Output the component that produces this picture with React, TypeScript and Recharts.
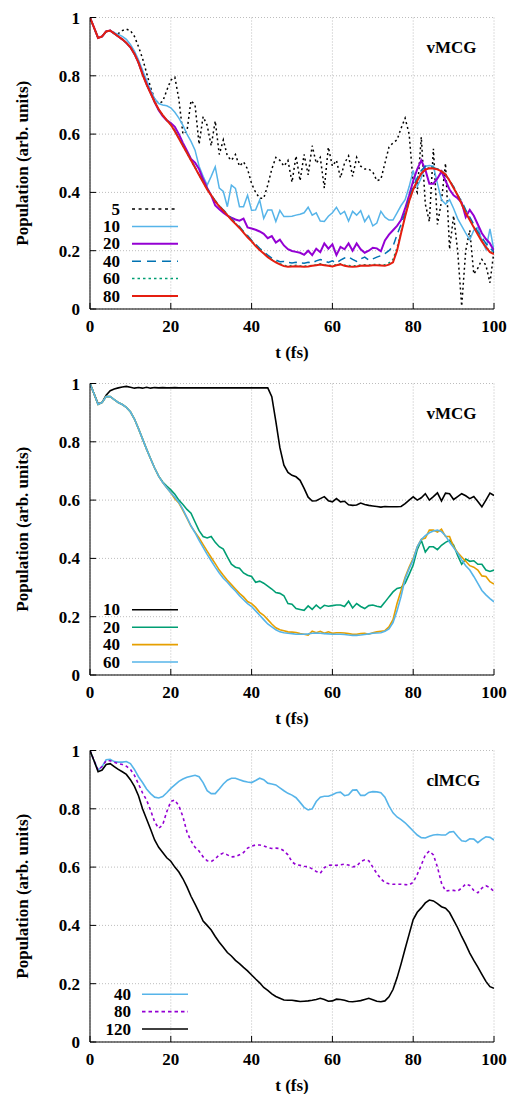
import React from 'react';
import { LineChart, Line, XAxis, YAxis, CartesianGrid, Legend } from 'recharts';

const T = [
  0, 1, 2, 3, 4, 5, 6, 7, 8, 9, 10, 11, 12, 13, 14, 15, 16, 17, 18, 19,
  20, 21, 22, 23, 24, 25, 26, 27, 28, 29, 30, 31, 32, 33, 34, 35, 36, 37, 38, 39,
  40, 41, 42, 43, 44, 45, 46, 47, 48, 49, 50, 51, 52, 53, 54, 55, 56, 57, 58, 59,
  60, 61, 62, 63, 64, 65, 66, 67, 68, 69, 70, 71, 72, 73, 74, 75, 76, 77, 78, 79,
  80, 81, 82, 83, 84, 85, 86, 87, 88, 89, 90, 91, 92, 93, 94, 95, 96, 97, 98, 99, 100,
];

const X_TICKS = [0, 20, 40, 60, 80, 100];
const Y_TICKS = [0, 0.2, 0.4, 0.6, 0.8, 1];

// ---------- Panel 1 (vMCG) ----------
const P1_N5 = [
  1.0, 0.965, 0.93, 0.935, 0.952, 0.955, 0.948, 0.945, 0.955, 0.96,
  0.955, 0.935, 0.9, 0.86, 0.81, 0.76, 0.72, 0.705, 0.712, 0.75,
  0.785, 0.795, 0.72, 0.6, 0.61, 0.715, 0.7, 0.565, 0.66, 0.63,
  0.56, 0.645, 0.53, 0.58, 0.525, 0.51, 0.53, 0.49, 0.505, 0.48,
  0.43, 0.4, 0.38, 0.38, 0.425, 0.48, 0.52, 0.51, 0.49, 0.51,
  0.435, 0.525, 0.44, 0.53, 0.46, 0.56, 0.5, 0.52, 0.415, 0.555,
  0.49, 0.51, 0.45, 0.5, 0.525, 0.455, 0.52, 0.49, 0.48, 0.48,
  0.47, 0.44, 0.445, 0.5, 0.555, 0.57, 0.58, 0.62, 0.655, 0.6,
  0.43, 0.4, 0.59, 0.36, 0.3, 0.55, 0.29, 0.37, 0.5, 0.205,
  0.32, 0.2, 0.01, 0.2, 0.27, 0.12, 0.14, 0.17, 0.15, 0.09,
  0.2,
];
const P1_N10 = [
  1.0, 0.965, 0.93, 0.935, 0.952, 0.955, 0.948, 0.942, 0.935, 0.925,
  0.908, 0.885, 0.855, 0.82, 0.785, 0.75, 0.722, 0.705, 0.7, 0.697,
  0.69, 0.675, 0.655, 0.63, 0.6, 0.575, 0.545, 0.49, 0.455, 0.425,
  0.455, 0.488, 0.415, 0.403, 0.351, 0.425, 0.414, 0.351, 0.351, 0.39,
  0.338, 0.34, 0.374, 0.311, 0.34, 0.34, 0.3, 0.338, 0.317, 0.317,
  0.318, 0.322, 0.325, 0.33, 0.349, 0.322, 0.33, 0.302, 0.3, 0.318,
  0.33, 0.349, 0.325, 0.335, 0.302, 0.335, 0.322, 0.337, 0.3, 0.32,
  0.285, 0.295, 0.335, 0.315, 0.305, 0.305, 0.33, 0.355, 0.375, 0.42,
  0.475, 0.42, 0.45, 0.49, 0.492, 0.49, 0.43, 0.375, 0.36, 0.375,
  0.345, 0.31, 0.285, 0.26, 0.238, 0.27, 0.28, 0.235, 0.205, 0.275,
  0.2,
];
const P1_N20 = [
  1.0, 0.965, 0.93, 0.935, 0.952, 0.955, 0.945, 0.935, 0.925, 0.913,
  0.898, 0.875, 0.845, 0.807, 0.772, 0.742, 0.71, 0.682, 0.662, 0.647,
  0.638, 0.625, 0.6, 0.57, 0.543, 0.515, 0.502, 0.48, 0.445, 0.415,
  0.39, 0.355, 0.342, 0.33, 0.32, 0.313, 0.307, 0.303, 0.31, 0.28,
  0.276, 0.272, 0.266, 0.258, 0.243, 0.25, 0.228, 0.238, 0.218, 0.205,
  0.199, 0.196, 0.193, 0.186, 0.2, 0.185, 0.207, 0.195, 0.225, 0.207,
  0.222, 0.185, 0.213, 0.205, 0.225, 0.2, 0.225, 0.205, 0.193, 0.2,
  0.21, 0.208, 0.198, 0.235, 0.255, 0.27, 0.285, 0.305, 0.345, 0.39,
  0.44, 0.48, 0.51, 0.478, 0.43, 0.43, 0.448, 0.472, 0.44, 0.41,
  0.39, 0.38, 0.365, 0.315, 0.34, 0.32, 0.29, 0.26, 0.24, 0.225,
  0.2,
];
const P1_N40 = [
  1.0, 0.965, 0.93, 0.935, 0.952, 0.955, 0.945, 0.935, 0.925, 0.913,
  0.898, 0.875, 0.845, 0.806, 0.771, 0.741, 0.711, 0.684, 0.664, 0.648,
  0.633, 0.612, 0.588, 0.562, 0.537, 0.512, 0.487, 0.462, 0.437, 0.413,
  0.392, 0.372, 0.355, 0.34, 0.326, 0.31, 0.296, 0.283, 0.266, 0.252,
  0.236, 0.222, 0.208, 0.196, 0.185, 0.175, 0.168, 0.162, 0.163, 0.16,
  0.158, 0.16, 0.158, 0.157, 0.16, 0.158, 0.165, 0.17, 0.165, 0.16,
  0.165, 0.158, 0.168, 0.175, 0.178, 0.17, 0.163, 0.172, 0.178, 0.168,
  0.172, 0.178, 0.183, 0.19, 0.2, 0.215, 0.255, 0.29, 0.33, 0.38,
  0.42, 0.45, 0.475, 0.49, 0.49, 0.485, 0.48, 0.475, 0.46, 0.44,
  0.42, 0.39, 0.37, 0.34, 0.315, 0.29, 0.265, 0.245, 0.225, 0.21,
  0.195,
];
const P1_N60 = [
  1.0, 0.965, 0.93, 0.935, 0.952, 0.955, 0.945, 0.935, 0.925, 0.913,
  0.898, 0.875, 0.845, 0.806, 0.771, 0.741, 0.711, 0.685, 0.665, 0.648,
  0.632, 0.61, 0.586, 0.56, 0.535, 0.51, 0.485, 0.46, 0.436, 0.411,
  0.391, 0.37, 0.354, 0.339, 0.324, 0.308, 0.294, 0.28, 0.264, 0.249,
  0.234, 0.218, 0.205, 0.192, 0.18, 0.17, 0.162, 0.155, 0.15, 0.148,
  0.149, 0.15, 0.148, 0.147, 0.148, 0.15, 0.152, 0.155, 0.152, 0.15,
  0.149, 0.152, 0.155, 0.15, 0.149, 0.148, 0.149, 0.151, 0.152, 0.151,
  0.153, 0.153, 0.152, 0.152, 0.158, 0.17, 0.21, 0.265, 0.32, 0.37,
  0.41, 0.44, 0.465, 0.48, 0.485, 0.485, 0.48, 0.474, 0.463, 0.442,
  0.418, 0.392, 0.362, 0.333, 0.307, 0.282, 0.258, 0.234, 0.214, 0.198,
  0.19,
];
const P1_N80 = [
  1.0, 0.965, 0.93, 0.935, 0.952, 0.955, 0.945, 0.935, 0.925, 0.913,
  0.898, 0.875, 0.845, 0.805, 0.77, 0.74, 0.71, 0.685, 0.665, 0.648,
  0.632, 0.61, 0.585, 0.56, 0.535, 0.51, 0.485, 0.46, 0.435, 0.41,
  0.39, 0.369, 0.352, 0.337, 0.322, 0.306, 0.292, 0.278, 0.262, 0.246,
  0.232, 0.216, 0.202, 0.19, 0.178, 0.168, 0.16, 0.153, 0.147, 0.145,
  0.146, 0.147, 0.146, 0.145, 0.146, 0.148, 0.15, 0.153, 0.15, 0.148,
  0.146, 0.15, 0.153, 0.148, 0.146, 0.145, 0.146, 0.148, 0.149, 0.148,
  0.15, 0.15, 0.149, 0.148, 0.152, 0.16, 0.2, 0.26, 0.317, 0.37,
  0.41, 0.44, 0.465, 0.478, 0.483, 0.482, 0.479, 0.472, 0.462, 0.44,
  0.415, 0.39, 0.36, 0.33, 0.305, 0.28, 0.256, 0.232, 0.212, 0.195,
  0.188,
];

// ---------- Panel 2 (vMCG) ----------
const P2_N10 = [
  1.0, 0.965, 0.93, 0.935, 0.96, 0.975, 0.981, 0.985, 0.988, 0.99,
  0.987, 0.984, 0.986, 0.984, 0.987, 0.984, 0.986, 0.985, 0.986, 0.985,
  0.985, 0.986, 0.985, 0.985, 0.985, 0.985, 0.985, 0.985, 0.985, 0.985,
  0.985, 0.985, 0.985, 0.985, 0.985, 0.985, 0.985, 0.985, 0.985, 0.985,
  0.985, 0.985, 0.985, 0.985, 0.985, 0.955, 0.87, 0.78, 0.72, 0.695,
  0.685, 0.68, 0.668, 0.64, 0.61, 0.597, 0.598, 0.605, 0.612, 0.598,
  0.594, 0.605, 0.594, 0.596, 0.584, 0.582, 0.583, 0.59, 0.585, 0.582,
  0.58, 0.578, 0.576, 0.578, 0.577, 0.577, 0.577, 0.578, 0.588, 0.6,
  0.611, 0.6, 0.608, 0.622, 0.6, 0.612, 0.625, 0.597, 0.624, 0.622,
  0.602, 0.612, 0.622, 0.615, 0.605, 0.612, 0.595, 0.577, 0.6, 0.624,
  0.616,
];
const P2_N20 = [
  1.0, 0.965, 0.928, 0.935, 0.955, 0.955, 0.945, 0.935, 0.928, 0.918,
  0.903, 0.878, 0.845, 0.81, 0.775, 0.742, 0.71, 0.682, 0.662, 0.648,
  0.635, 0.62, 0.6, 0.585, 0.568, 0.555, 0.525, 0.495, 0.475, 0.47,
  0.475, 0.455, 0.44, 0.432, 0.405, 0.38, 0.37, 0.366, 0.35, 0.342,
  0.338, 0.318, 0.322, 0.315, 0.305, 0.295, 0.283, 0.28, 0.272, 0.245,
  0.243, 0.228, 0.225, 0.222, 0.237, 0.225, 0.24, 0.228, 0.239, 0.236,
  0.238, 0.24, 0.24, 0.235, 0.253, 0.23, 0.245, 0.235, 0.228, 0.238,
  0.24, 0.236, 0.233, 0.25, 0.268, 0.285, 0.297, 0.3, 0.315, 0.345,
  0.377, 0.43, 0.462, 0.422, 0.44, 0.44, 0.43, 0.445, 0.455, 0.462,
  0.445, 0.41, 0.38, 0.398, 0.39, 0.392, 0.38, 0.38, 0.36, 0.355,
  0.36,
];
const P2_N40 = [
  1.0, 0.965, 0.928, 0.935, 0.955, 0.955, 0.945, 0.935, 0.928, 0.918,
  0.903, 0.878, 0.845, 0.81, 0.775, 0.742, 0.71, 0.682, 0.66, 0.642,
  0.625, 0.605, 0.59, 0.565, 0.538, 0.51, 0.49, 0.47, 0.447, 0.425,
  0.403, 0.382, 0.36, 0.342, 0.325, 0.31, 0.295, 0.28, 0.268, 0.252,
  0.245, 0.232, 0.215, 0.205, 0.19, 0.175, 0.162, 0.155, 0.152, 0.148,
  0.147, 0.146, 0.142, 0.14, 0.137, 0.15, 0.145, 0.15, 0.143, 0.148,
  0.143, 0.145, 0.145, 0.144, 0.142, 0.14, 0.14, 0.142, 0.143, 0.14,
  0.145, 0.148, 0.15, 0.152, 0.165, 0.19, 0.245, 0.29, 0.335, 0.37,
  0.4, 0.44, 0.465, 0.47, 0.497, 0.497, 0.49, 0.5, 0.475, 0.475,
  0.44, 0.42, 0.405, 0.39, 0.375, 0.37, 0.36, 0.34, 0.338, 0.32,
  0.312,
];
const P2_N60 = [
  1.0, 0.965, 0.928, 0.935, 0.955, 0.955, 0.945, 0.935, 0.928, 0.918,
  0.903, 0.878, 0.845, 0.81, 0.775, 0.742, 0.71, 0.682, 0.66, 0.642,
  0.625, 0.61, 0.592, 0.568, 0.54, 0.512, 0.488, 0.462, 0.438, 0.414,
  0.392, 0.37, 0.35, 0.332, 0.318, 0.302, 0.288, 0.272, 0.258, 0.245,
  0.235, 0.22, 0.205, 0.19, 0.175, 0.165, 0.155, 0.148, 0.145, 0.143,
  0.142, 0.14, 0.14, 0.14, 0.141, 0.143, 0.144, 0.143, 0.142, 0.141,
  0.14, 0.14, 0.14, 0.139, 0.137, 0.136, 0.136, 0.137, 0.139, 0.141,
  0.143, 0.144, 0.145, 0.15, 0.158, 0.18, 0.22, 0.27, 0.33, 0.365,
  0.395, 0.44, 0.465, 0.478, 0.488, 0.494, 0.497, 0.492, 0.478, 0.455,
  0.437, 0.418, 0.395, 0.375, 0.36, 0.338, 0.314, 0.29, 0.275, 0.262,
  0.251,
];

// ---------- Panel 3 (clMCG) ----------
const P3_N40 = [
  1.0, 0.965, 0.933, 0.945, 0.968, 0.97, 0.962, 0.96, 0.96, 0.962,
  0.955, 0.935, 0.91, 0.89, 0.868, 0.852, 0.84, 0.837, 0.842, 0.855,
  0.87, 0.882, 0.894, 0.902, 0.908, 0.912, 0.915, 0.91, 0.89, 0.862,
  0.852, 0.852, 0.868, 0.885, 0.898, 0.905, 0.905, 0.9, 0.895, 0.892,
  0.89, 0.897, 0.905, 0.9, 0.888, 0.885, 0.882, 0.872, 0.862, 0.853,
  0.847, 0.838, 0.822, 0.805, 0.796, 0.8, 0.825, 0.84, 0.843, 0.843,
  0.848, 0.855, 0.857, 0.845, 0.848, 0.864, 0.865, 0.846, 0.846, 0.856,
  0.859, 0.858, 0.855, 0.84, 0.81, 0.786, 0.772, 0.763, 0.752, 0.738,
  0.724, 0.71, 0.701, 0.7, 0.706, 0.71, 0.712, 0.71, 0.71, 0.72,
  0.722, 0.705, 0.69, 0.688, 0.697, 0.696, 0.684, 0.695, 0.704, 0.702,
  0.693,
];
const P3_N80 = [
  1.0, 0.965, 0.933, 0.945, 0.965, 0.965, 0.96, 0.955, 0.952, 0.946,
  0.935, 0.915, 0.885, 0.855, 0.83, 0.795, 0.755, 0.733, 0.745, 0.79,
  0.825, 0.83, 0.81, 0.773, 0.72, 0.69, 0.668, 0.655, 0.635, 0.622,
  0.619, 0.628, 0.642, 0.648, 0.642, 0.635, 0.636, 0.642, 0.65, 0.665,
  0.672, 0.676, 0.676, 0.673, 0.667, 0.664, 0.665, 0.664, 0.656, 0.642,
  0.618, 0.608, 0.606, 0.603, 0.601, 0.594, 0.585, 0.579, 0.598, 0.606,
  0.607, 0.606, 0.608, 0.61, 0.607, 0.601, 0.603, 0.619, 0.625, 0.622,
  0.6, 0.578, 0.56, 0.547, 0.543, 0.541, 0.541, 0.541, 0.54, 0.539,
  0.548, 0.575, 0.607, 0.642, 0.655, 0.642, 0.6, 0.545, 0.518, 0.52,
  0.52, 0.518, 0.528, 0.542, 0.537, 0.52, 0.512, 0.528, 0.536, 0.53,
  0.516,
];
const P3_N120 = [
  1.0, 0.965, 0.927, 0.933, 0.952, 0.955, 0.945, 0.935, 0.927, 0.918,
  0.9, 0.877, 0.845, 0.8, 0.765, 0.73, 0.693, 0.668, 0.65, 0.632,
  0.62, 0.6, 0.583, 0.56, 0.532, 0.5, 0.473, 0.445, 0.415, 0.4,
  0.384, 0.362, 0.342, 0.325, 0.307, 0.295, 0.28, 0.269, 0.256, 0.244,
  0.23, 0.216, 0.203, 0.187, 0.177, 0.165, 0.156, 0.15, 0.144, 0.143,
  0.143, 0.141, 0.139, 0.14, 0.141, 0.143, 0.146, 0.15, 0.146, 0.14,
  0.141, 0.147, 0.146, 0.143, 0.139, 0.138, 0.14, 0.142, 0.146, 0.15,
  0.145, 0.14, 0.138, 0.141, 0.155, 0.18, 0.22, 0.268, 0.32, 0.37,
  0.42, 0.445, 0.46, 0.477, 0.487, 0.484, 0.475, 0.464, 0.459, 0.444,
  0.418, 0.392, 0.362, 0.335, 0.305, 0.28, 0.257, 0.232, 0.208, 0.19,
  0.184,
];

type Series = {
  key: string;
  name: string;
  values: number[];
  color: string;
  width: number;
  dash?: string;
  legendDash?: string;
};

const PANEL1: Series[] = [
  { key: 'n5', name: '5', values: P1_N5, color: '#000000', width: 1.5, dash: '2 3', legendDash: '3 3.6' },
  { key: 'n10', name: '10', values: P1_N10, color: '#56b4e9', width: 1.5 },
  { key: 'n20', name: '20', values: P1_N20, color: '#9400d3', width: 2 },
  { key: 'n40', name: '40', values: P1_N40, color: '#0072b2', width: 1.5, dash: '8 5', legendDash: '9 6' },
  { key: 'n60', name: '60', values: P1_N60, color: '#009e73', width: 1.5, dash: '2 3', legendDash: '2.5 3' },
  { key: 'n80', name: '80', values: P1_N80, color: '#e51e10', width: 2 },
];
const PANEL2: Series[] = [
  { key: 'n10', name: '10', values: P2_N10, color: '#000000', width: 1.6 },
  { key: 'n20', name: '20', values: P2_N20, color: '#009e73', width: 1.6 },
  { key: 'n40', name: '40', values: P2_N40, color: '#e69f00', width: 1.6 },
  { key: 'n60', name: '60', values: P2_N60, color: '#56b4e9', width: 1.6 },
];
const PANEL3: Series[] = [
  { key: 'n40', name: '40', values: P3_N40, color: '#56b4e9', width: 1.6 },
  { key: 'n80', name: '80', values: P3_N80, color: '#9400d3', width: 1.6, dash: '3 3', legendDash: '3.5 3' },
  { key: 'n120', name: '120', values: P3_N120, color: '#000000', width: 1.6 },
];

const FONT = 'Liberation Serif, Tinos, Times New Roman, Times, serif';
const W = 513;
const H = 366;
const TEXT_STYLE = { fontFamily: FONT, fontWeight: 700, fontSize: 17, fill: '#000', style: { fontFamily: FONT } };
const SVG_TEXT_CSS: React.CSSProperties = { fontFamily: FONT, fontWeight: 700, fontSize: 17 };

function Panel({
  series,
  title,
  legendTextRight,
  legendLineX1,
  legendLineX2,
}: {
  series: Series[];
  title: string;
  legendTextRight: number;
  legendLineX1: number;
  legendLineX2: number;
}) {
  const data = T.map((t, i) => {
    const row: Record<string, number> = { t };
    series.forEach((s) => {
      row[s.key] = s.values[i];
    });
    return row;
  });

  const n = series.length;
  const legendContent = () => (
    <svg width={W} height={H} style={{ display: 'block', overflow: 'visible' }}>
      <text x={426.5} y={47} textAnchor="start" dominantBaseline="central" fill="#000" style={SVG_TEXT_CSS}>
        {title}
      </text>
      {series.map((s, i) => {
        const y = 296 - (n - 1 - i) * 17.4;
        return (
          <g key={s.key}>
            <text x={legendTextRight} y={y} textAnchor="end" dominantBaseline="central" fill="#000" style={SVG_TEXT_CSS}>
              {s.name}
            </text>
            <line
              x1={legendLineX1}
              x2={legendLineX2}
              y1={y}
              y2={y}
              stroke={s.color}
              strokeWidth={s.width}
              strokeDasharray={s.legendDash ?? s.dash}
            />
          </g>
        );
      })}
    </svg>
  );

  const yLabel = (p: any) => {
    const vb = p && p.viewBox && p.viewBox.height ? p.viewBox : { x: 8, y: 17.5, width: 82, height: 291.5 };
    const cx = vb.x + 14;
    const cy = vb.y + vb.height / 2;
    return (
      <text
        x={cx}
        y={cy}
        transform={`rotate(-90, ${cx}, ${cy})`}
        textAnchor="middle"
        dominantBaseline="central"
        fill="#000"
        style={SVG_TEXT_CSS}
      >
        Population (arb. units)
      </text>
    );
  };

  const xLabel = (p: any) => {
    const vb = p && p.viewBox && p.viewBox.width ? p.viewBox : { x: 90, y: 309, width: 404, height: 57 };
    return (
      <text
        x={vb.x + vb.width / 2}
        y={vb.y + 43}
        textAnchor="middle"
        dominantBaseline="central"
        fill="#000"
        style={SVG_TEXT_CSS}
      >
        t (fs)
      </text>
    );
  };

  return (
    <LineChart
      width={W}
      height={H}
      data={data}
      margin={{ top: 17.5, right: 19, bottom: 0, left: 8 }}
      style={{ fontFamily: FONT }}
    >
      <CartesianGrid stroke="#bdbdbd" strokeDasharray="1 2" strokeWidth={1} />
      <XAxis
        dataKey="t"
        type="number"
        domain={[0, 100]}
        ticks={X_TICKS}
        interval={0}
        allowDataOverflow
        height={57}
        tickSize={-6}
        tickMargin={17}
        axisLine={{ stroke: '#000', strokeWidth: 1 }}
        tickLine={{ stroke: '#000' }}
        tick={TEXT_STYLE}
        label={xLabel}
      />
      <XAxis
        xAxisId="top"
        orientation="top"
        dataKey="t"
        type="number"
        domain={[0, 100]}
        ticks={X_TICKS}
        interval={0}
        allowDataOverflow
        height={0}
        tickSize={-6}
        tick={false}
        axisLine={{ stroke: '#000', strokeWidth: 1 }}
        tickLine={{ stroke: '#000' }}
      />
      <YAxis
        type="number"
        domain={[0, 1]}
        ticks={Y_TICKS}
        interval={0}
        allowDataOverflow
        width={82}
        tickSize={-6}
        tickMargin={16}
        axisLine={{ stroke: '#000', strokeWidth: 1 }}
        tickLine={{ stroke: '#000' }}
        tick={TEXT_STYLE}
        tickFormatter={(v: number) => String(v)}
        label={yLabel}
      />
      <YAxis
        yAxisId="right"
        orientation="right"
        type="number"
        domain={[0, 1]}
        ticks={Y_TICKS}
        interval={0}
        allowDataOverflow
        width={0}
        tickSize={-6}
        tick={false}
        axisLine={{ stroke: '#000', strokeWidth: 1 }}
        tickLine={{ stroke: '#000' }}
      />
      {series.map((s) => (
        <Line
          key={s.key}
          dataKey={s.key}
          name={s.name}
          type="linear"
          stroke={s.color}
          strokeWidth={s.width}
          strokeDasharray={s.dash}
          dot={false}
          activeDot={false}
          isAnimationActive={false}
        />
      ))}
      <Legend
        layout="vertical"
        align="center"
        verticalAlign="middle"
        content={legendContent}
        wrapperStyle={{ position: 'absolute', left: 0, top: 0, width: W, height: H, margin: 0, pointerEvents: 'none' }}
      />
    </LineChart>
  );
}

export default function App() {
  return (
    <div style={{ position: 'absolute', left: 0, top: 0, width: 513, height: 1094, background: '#fff' }}>
      <div style={{ position: 'absolute', left: 0, top: 0 }}>
        <Panel series={PANEL1} title="vMCG" legendTextRight={120} legendLineX1={132} legendLineX2={178} />
      </div>
      <div style={{ position: 'absolute', left: 0, top: 365.5 }}>
        <Panel series={PANEL2} title="vMCG" legendTextRight={120} legendLineX1={132} legendLineX2={178} />
      </div>
      <div style={{ position: 'absolute', left: 0, top: 733 }}>
        <Panel series={PANEL3} title="clMCG" legendTextRight={131} legendLineX1={142} legendLineX2={188} />
      </div>
    </div>
  );
}
